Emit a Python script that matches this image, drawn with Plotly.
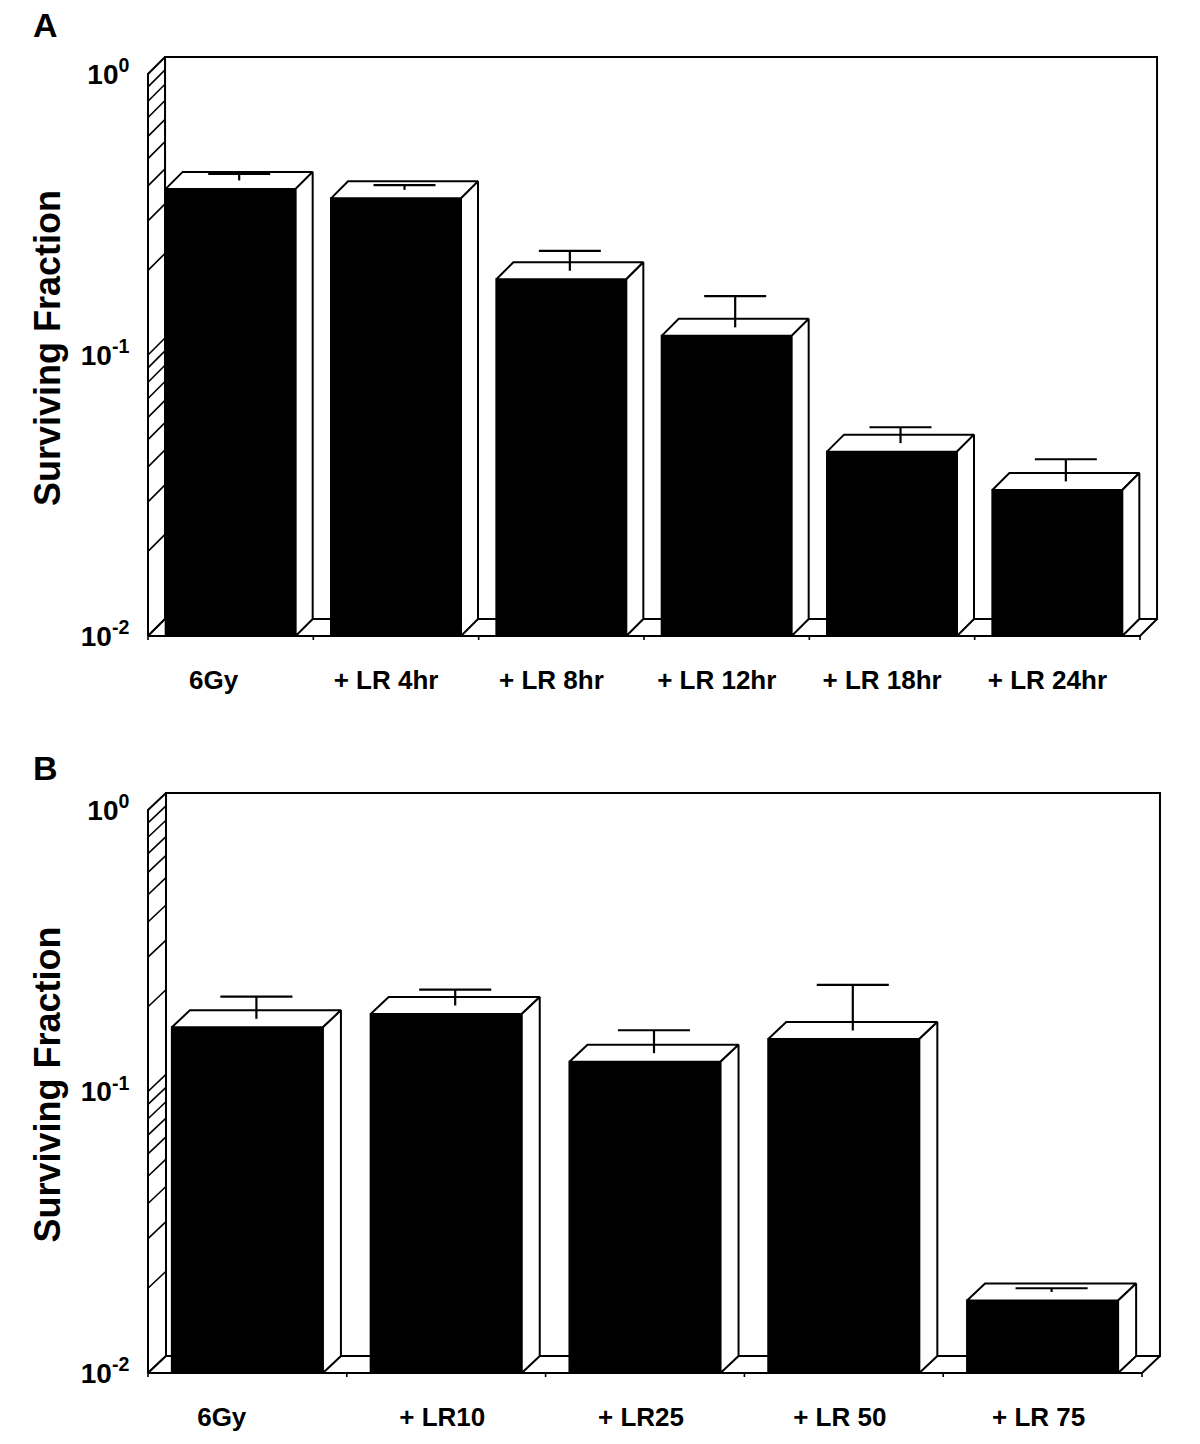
import numpy as np
import plotly.graph_objects as go

# ---------------- data ----------------
cats_a = ["6Gy&nbsp;&nbsp;", "+ LR 4hr", "+ LR 8hr", "+ LR 12hr", "+ LR 18hr", "+ LR 24hr"]
vals_a = [0.390, 0.361, 0.186, 0.117, 0.0453, 0.0331]
errs_a = [0.021, 0.014, 0.033, 0.034, 0.0063, 0.0066]

cats_b = ["6Gy&nbsp;&nbsp;&nbsp;&nbsp;&nbsp;&nbsp;", "+ LR10", "+ LR25", "+ LR 50", "+ LR 75"]
vals_b = [0.169, 0.1885, 0.1276, 0.1536, 0.0181]
errs_b = [0.0335, 0.026, 0.0263, 0.0693, 0.00055]

y_tickvals = [0.01, 0.1, 1.0]
y_ticktext = ["10<sup>-2</sup>", "10<sup>-1</sup>", "10<sup>0</sup>"]
minor_vals = [m * d for d in (0.01, 0.1) for m in range(2, 10)] + [0.1]
y_min, y_max = 0.01, 1.0

# ---------------- layout constants ----------------
W, H = 1200, 1444
ML, MR = 146, 36
DEPTH_LOG = 0.0605          # depth offset in decades (~17 px)
TICK_LOG = 4 / 281.0        # x tick length in decades
FONT = "Liberation Sans, Arial, Helvetica, sans-serif"

panels = [
    dict(cats=cats_a, vals=vals_a, errs=errs_a, xa="x", ya="y", xname="xaxis", yname="yaxis",
         front_x=148, ppc=992 / 6, dx=0.103, bw=0.786, lab_shift=-0.06,
         top_px=54, bot_px=642, yr=[-2.0214, 0.0712], letter="A", letter_y=25),
    dict(cats=cats_b, vals=vals_b, errs=errs_b, xa="x2", ya="y2", xname="xaxis2", yname="yaxis2",
         front_x=148, ppc=994 / 5, dx=0.0905, bw=0.76, lab_shift=-0.02,
         top_px=790, bot_px=1379, yr=[-2.0214, 0.071], letter="B", letter_y=768),
]

fig = go.Figure()


def add_line(xs, ys, xa, ya, fill=None, width=2):
    fig.add_trace(go.Scatter(
        x=xs, y=ys, mode="lines",
        fill="toself" if fill else "none",
        fillcolor=fill if fill else None,
        line=dict(color="black", width=width),
        xaxis=xa, yaxis=ya, hoverinfo="skip", showlegend=False,
    ))


for p in panels:
    n = len(p["cats"])
    dx = p["dx"]
    f = 10 ** DEPTH_LOG
    xa, ya = p["xa"], p["ya"]
    # back wall
    add_line([dx, n + dx, n + dx, dx, dx],
             [y_min * f, y_min * f, y_max * f, y_max * f, y_min * f], xa, ya, fill="white")
    # left wall
    add_line([0, dx, dx, 0, 0], [y_min, y_min * f, y_max * f, y_max, y_min], xa, ya, fill="white")
    # floor
    add_line([0, n, n + dx, dx, 0], [y_min, y_min, y_min * f, y_min * f, y_min], xa, ya, fill="white")
    # minor diagonals on the left wall
    mx, my = [], []
    for m in minor_vals:
        mx += [0, dx, None]
        my += [m, m * f, None]
    add_line(mx, my, xa, ya, width=1.6)
    # category boundary ticks
    tx, ty = [], []
    for i in range(n + 1):
        tx += [i, i, None]
        ty += [y_min, y_min * 10 ** (-TICK_LOG), None]
    add_line(tx, ty, xa, ya, width=1.6)
    # bars
    bw = p["bw"]
    mid = 10 ** (DEPTH_LOG / 2)
    for i, (v, e) in enumerate(zip(p["vals"], p["errs"])):
        c = i + 0.5
        xl, xr = c - bw / 2, c + bw / 2
        add_line([xl, xr, xr, xl, xl], [y_min, y_min, v, v, y_min], xa, ya, fill="black")
        add_line([xl, xr, xr + dx, xl + dx, xl], [v, v, v * f, v * f, v], xa, ya, fill="white")
        add_line([xr, xr + dx, xr + dx, xr, xr], [y_min, y_min * f, v * f, v, y_min], xa, ya, fill="white")
    # error bars
    ex_l, ey_l = [], []
    for i, (v, e) in enumerate(zip(p["vals"], p["errs"])):
        ex = i + 0.5 + dx / 2
        cw = 0.477 * bw / 2
        top = (v + e) * mid
        ex_l += [ex, ex, None, ex - cw, ex + cw, None]
        ey_l += [v * mid, top, None, top, top, None]
    add_line(ex_l, ey_l, xa, ya, width=2.2)

layout = dict(
    width=W, height=H,
    margin=dict(l=ML, r=MR, t=0, b=0),
    paper_bgcolor="white", plot_bgcolor="white",
    showlegend=False,
    font=dict(family=FONT, color="black"),
    annotations=[],
)

plot_w = W - ML - MR
for p in panels:
    n = len(p["cats"])
    lo = (ML - p["front_x"]) / p["ppc"]
    hi = (W - MR - p["front_x"]) / p["ppc"]
    layout[p["xname"]] = dict(
        domain=[0, 1], anchor=p["ya"], range=[lo, hi],
        showgrid=False, zeroline=False, showline=False,
        tickmode="array",
        tickvals=[i + 0.5 + p["lab_shift"] for i in range(n)],
        ticktext=p["cats"],
        ticks="outside", ticklen=15, tickcolor="rgba(0,0,0,0)",
        tickfont=dict(family=FONT, size=26, weight="bold", color="black"),
        fixedrange=True, automargin=False,
    )
    layout[p["yname"]] = dict(
        domain=[1 - p["bot_px"] / H, 1 - p["top_px"] / H], anchor=p["xa"],
        type="log", range=p["yr"],
        showgrid=False, zeroline=False, showline=False,
        tickmode="array", tickvals=y_tickvals, ticktext=y_ticktext,
        ticks="outside", ticklen=10, tickcolor="rgba(0,0,0,0)",
        tickfont=dict(family=FONT, size=28, weight="bold", color="black"),
        title=dict(text="Surviving Fraction", standoff=9,
                   font=dict(family=FONT, size=36, weight="bold", color="black")),
        fixedrange=True, automargin=False,
    )
    layout["annotations"].append(dict(
        text=p["letter"], xref="paper", yref="paper",
        x=(45 - ML) / plot_w, y=1 - p["letter_y"] / H,
        xanchor="center", yanchor="middle", showarrow=False,
        font=dict(family=FONT, size=34, weight="bold", color="black"),
    ))

fig.update_layout(**layout)
fig.write_html("out.html", config={"displayModeBar": False},
               post_script="document.body.style.margin='0';document.body.style.overflow='hidden';")
